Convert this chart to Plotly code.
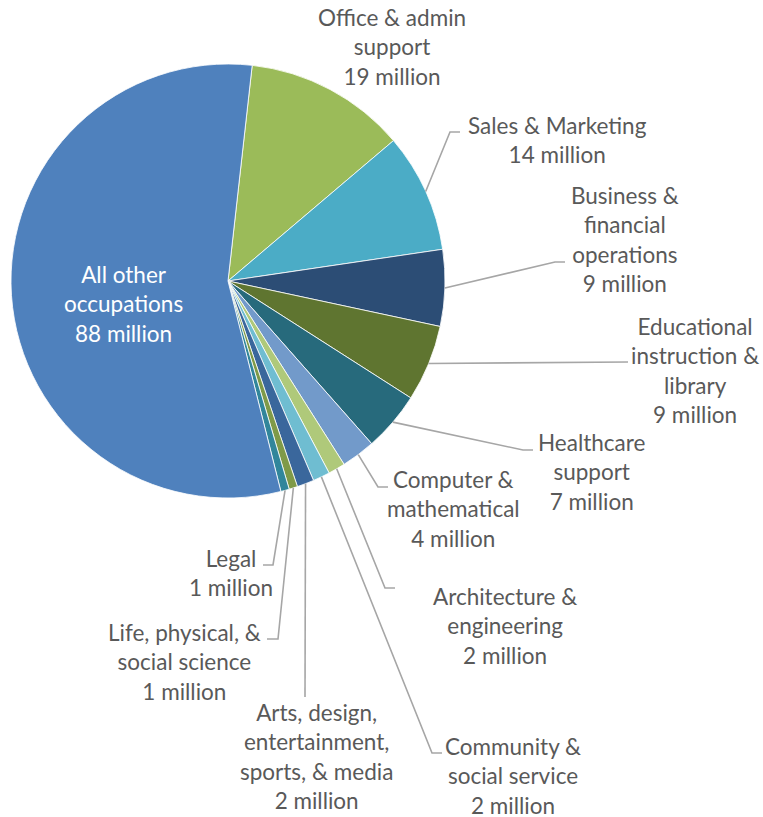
import math
import plotly.graph_objects as go

# ---------------- data ----------------
categories = [
    "Office & admin support",
    "Sales & Marketing",
    "Business & financial operations",
    "Educational instruction & library",
    "Healthcare support",
    "Computer & mathematical",
    "Architecture & engineering",
    "Community & social service",
    "Arts, design, entertainment, sports, & media",
    "Life, physical, & social science",
    "Legal",
    "All other occupations",
]
label_text = [
    "Office & admin<br>support",
    "Sales & Marketing",
    "Business &<br>financial<br>operations",
    "Educational<br>instruction &<br>library",
    "Healthcare<br>support",
    "Computer &<br>mathematical",
    "Architecture &<br>engineering",
    "Community &<br>social service",
    "Arts, design,<br>entertainment,<br>sports, & media",
    "Life, physical, &<br>social science",
    "Legal",
    "All other<br>occupations",
]
values_million = [19, 14, 9, 9, 7, 4, 2, 2, 2, 1, 1, 88]

# ---------------- style / layout ----------------
colors = ["#9BBB59", "#4BACC6", "#2C4D75", "#5F7530", "#276A7C", "#729ACA",
          "#AFC97A", "#6FBDD1", "#3A679C", "#7F9A48", "#31869B", "#4F81BD"]

W, H = 763, 817
CX, CY, R = 228, 281, 217      # pie centre / radius in pixels
ROT = 6.4                      # start angle (deg, clockwise from 12 o'clock)
FONT = "Lato"
FS = 22.5
TXT = "#595959"

# label block centres (pixels) and leader-line elbows (pixels, after slice edge)
label_pos = [(392, 46.5), (557, 140.5), (625, 239.5), (695, 370), (591, 471.5),
             (453, 509), (505, 626), (513, 776), (316, 756.5), (184, 661.5),
             (231, 573), (124, 304)]
leader_pts = [
    None,
    [(450, 132), (460, 132)],
    [(555, 262), (565, 262)],
    [(628, 362)],
    [(523, 450), (533, 450)],
    [(378, 487), (388, 487)],
    [(385, 588), (395, 588)],
    [(432, 753), (442, 753)],
    [(305, 697)],
    [(278, 639), (267, 639)],
    [(273, 565), (263, 565)],
    None,
]


def px(x):
    return x / W


def py(y):
    return 1 - y / H


fig = go.Figure()
fig.add_trace(go.Pie(
    labels=categories,
    values=values_million,
    sort=False,
    direction="clockwise",
    rotation=ROT,
    marker=dict(colors=colors, line=dict(color="white", width=0.8)),
    textinfo="none",
    hoverinfo="label+value",
    showlegend=False,
    domain=dict(x=[px(CX - R), px(CX + R)], y=[py(CY + R), py(CY - R)]),
))

total = sum(values_million)
cum = 0.0
annotations = []
shapes = []
for i, v in enumerate(values_million):
    mid = ROT + (cum + v / 2) / total * 360.0
    cum += v
    a = math.radians(mid)
    sx, sy = CX + R * math.sin(a), CY - R * math.cos(a)
    inside = categories[i] == "All other occupations"
    txt = f"{label_text[i]}<br>{values_million[i]} million"
    lx, ly = label_pos[i]
    annotations.append(dict(
        x=px(lx), y=py(ly), xref="paper", yref="paper",
        xanchor="center", yanchor="middle", showarrow=False,
        text=txt, align="center",
        font=dict(family=FONT, size=FS, color="white" if inside else TXT),
    ))
    if leader_pts[i]:
        pts = [(sx, sy)] + leader_pts[i]
        path = "M " + " L ".join(f"{px(x):.5f},{py(y):.5f}" for x, y in pts)
        shapes.append(dict(type="path", xref="paper", yref="paper", path=path,
                           line=dict(color="#A6A6A6", width=1.6)))

fig.update_layout(
    width=W, height=H,
    margin=dict(l=0, r=0, t=0, b=0),
    paper_bgcolor="white", plot_bgcolor="white",
    annotations=annotations, shapes=shapes,
    font=dict(family=FONT, color=TXT),
)
fig.write_html("out.html", config={"displayModeBar": False},
               post_script="document.body.style.margin='0px';")
